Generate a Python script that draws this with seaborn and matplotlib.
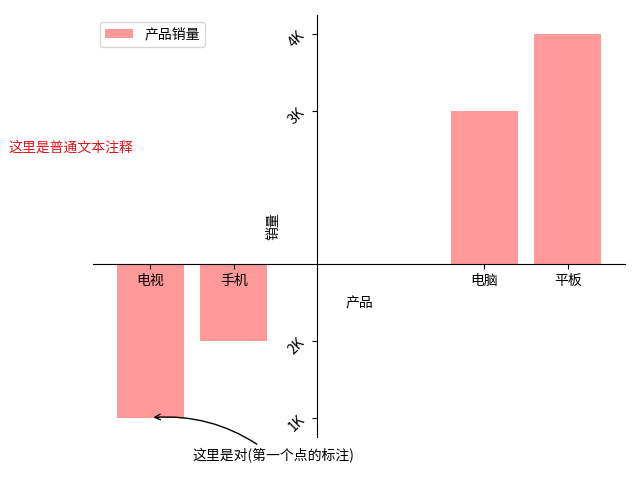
import matplotlib
matplotlib.use('Agg')
import matplotlib.pyplot as plt
import seaborn as sns

# chart data
products = ['电视', '手机', '电脑', '平板']
positions = [-2, -1, 2, 3]
sales = [-2, -1, 2, 3]
ytick_pos = [-2, -1, 2, 3]
ytick_labels = ['1K', '2K', '3K', '4K']

plt.rcParams['font.family'] = ['Noto Sans CJK SC', 'DejaVu Sans']
plt.rcParams['axes.unicode_minus'] = False

fig, ax = plt.subplots(figsize=(6.4, 4.8), dpi=100)
fig.subplots_adjust(left=0.145, right=0.977, top=0.969, bottom=0.090)

sns.barplot(x=positions, y=sales, native_scale=True, color='#ff9999',
            saturation=1, label='产品销量', ax=ax)

# move spines to the origin
ax.spines['right'].set_visible(False)
ax.spines['top'].set_visible(False)
ax.spines['bottom'].set_position(('data', 0))
ax.spines['left'].set_position(('data', 0))

ax.set_xticks(positions)
ax.set_xticklabels(products)
ax.set_yticks(ytick_pos)
ax.set_yticklabels(ytick_labels, rotation=45)
ax.set_xlabel('产品', labelpad=6)
ax.set_ylabel('销量')

ax.legend(loc='upper left')

ax.text(-3.7, 1.47, '这里是普通文本注释', color='#e0141e')
ax.annotate('这里是对(第一个点的标注)', xy=(positions[0], sales[0]),
            xytext=(-1.5, -2.56),
            arrowprops=dict(arrowstyle='->', connectionstyle='arc3,rad=0.2'))

fig.savefig('out.png', dpi=100)
